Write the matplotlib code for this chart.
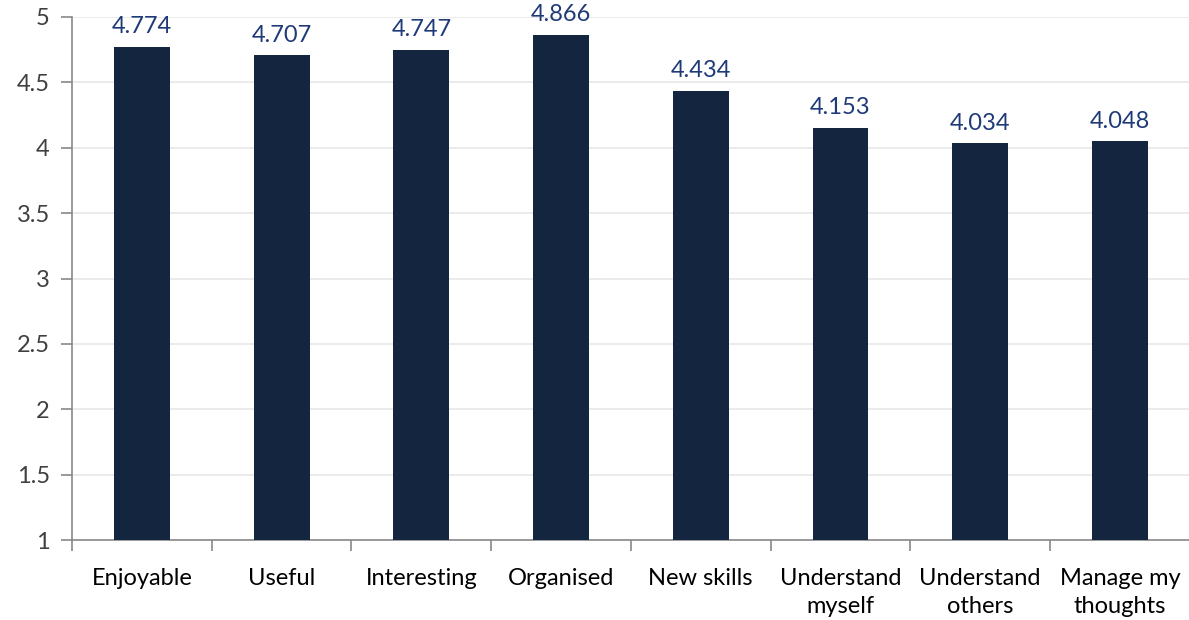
import matplotlib.pyplot as plt
import numpy as np

categories = ["Enjoyable", "Useful", "Interesting", "Organised", "New skills",
              "Understand\nmyself", "Understand\nothers", "Manage my\nthoughts"]
values = [4.774, 4.707, 4.747, 4.866, 4.434, 4.153, 4.034, 4.048]
yticks = [1, 1.5, 2, 2.5, 3, 3.5, 4, 4.5, 5]

plt.rcParams['font.family'] = ['Lato', 'DejaVu Sans']

fig = plt.figure(figsize=(11.89, 6.2), dpi=100)
ax = fig.add_axes([0.0606, 0.129, 0.94, 0.8436])

x = np.arange(len(categories))
bars = ax.bar(x, [v - 1 for v in values], bottom=1, width=0.4, color="#14263f", zorder=3)

for xi, v in zip(x, values):
    ax.annotate(f"{v:.3f}", (xi, v), xytext=(0, 7), textcoords="offset points",
                ha="center", va="bottom", fontsize=17, color="#1f3a78")

ax.set_xlim(-0.5, len(categories) - 0.5)
ax.set_ylim(1, 5)
ax.set_yticks(yticks)
ax.set_yticklabels([f"{t:g}" for t in yticks], fontsize=17, color="#404040")
ax.set_xticks(x)
ax.set_xticklabels(categories, fontsize=17, color="black", linespacing=1.45)
ax.tick_params(axis="x", length=0, pad=20)
ax.set_xticks(np.arange(len(categories) + 1) - 0.5, minor=True)
ax.tick_params(axis="x", which="minor", length=8, color="#898989", width=1.2)
ax.tick_params(axis="y", length=8, color="#898989", width=1.2, pad=8)

ax.grid(axis="y", color="#e8e8e8", linewidth=1.2, zorder=0)
for s in ["top", "right"]:
    ax.spines[s].set_visible(False)
for s in ["left", "bottom"]:
    ax.spines[s].set_color("#898989")
    ax.spines[s].set_linewidth(1.2)

plt.savefig("out.png", dpi=100)
